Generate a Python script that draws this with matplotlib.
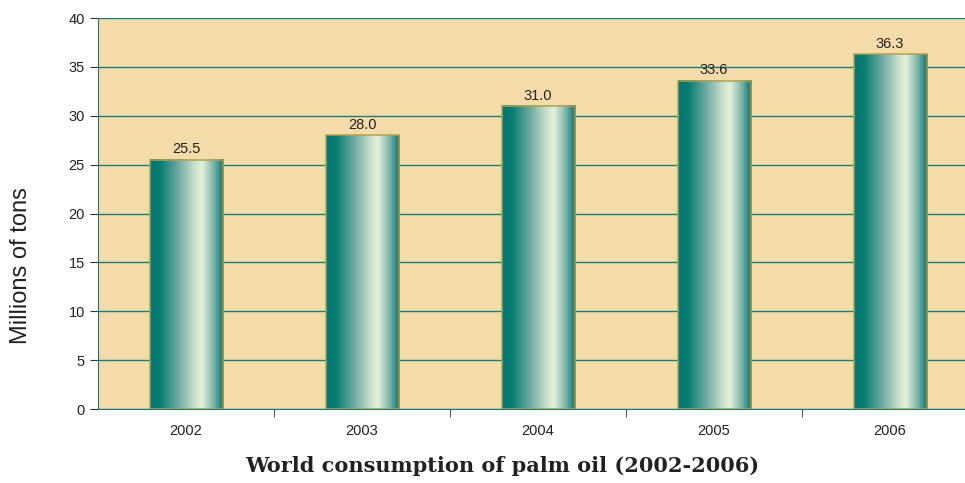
import numpy as np
from matplotlib import pyplot as plt
from matplotlib.colors import LinearSegmentedColormap

years = ['2002', '2003', '2004', '2005', '2006']
consumption = [25.5, 28.0, 31.0, 33.6, 36.3]
value_labels = ['25.5', '28.0', '31.0', '33.6', '36.3']

plt.rcParams['font.family'] = ['Liberation Sans', 'DejaVu Sans']

bg = '#f5dba9'
teal = '#1a7c79'
edge = '#b3a04c'

# horizontal metallic gradient used inside each bar
barcmap = LinearSegmentedColormap.from_list('metal', [
    (0.0, '#00766e'), (0.15, '#0a7f77'), (0.38, '#6fa99f'),
    (0.62, '#cfe6cf'), (0.71, '#e3f1d9'), (0.86, '#7fb3aa'), (1.0, '#00766e')])
grad = np.linspace(0, 1, 256).reshape(1, -1)

fig = plt.figure(figsize=(9.65, 4.83), dpi=100)
ax = fig.add_axes([0.1016, 0.1532, 0.912, 0.8095])
ax.set_facecolor(bg)

x = np.arange(len(years))
w = 0.415
ax.bar(x, consumption, width=w, color='none', edgecolor=edge, linewidth=1.1, zorder=3)
for xi, v in zip(x, consumption):
    ax.imshow(grad, cmap=barcmap, aspect='auto', extent=(xi - w / 2, xi + w / 2, 0, v),
              zorder=2, interpolation='bilinear')
for xi, v, lab in zip(x, consumption, value_labels):
    ax.text(xi, v + 0.35, lab, ha='center', va='bottom', fontsize=10.5, color='#222222', zorder=4)

ax.set_xlim(-0.5, 4.5)
ax.set_ylim(0, 40)
ax.set_yticks(range(0, 41, 5))
ax.yaxis.grid(True, color=teal, linewidth=1.0, zorder=1)
ax.set_axisbelow(True)

ax.set_xticks(x)
ax.set_xticklabels(years, fontsize=10.5, color='#222222')
ax.tick_params(axis='x', length=0, pad=11)
ax.set_xticks(np.arange(0.5, 4.0, 1.0), minor=True)
ax.tick_params(axis='x', which='minor', length=6, color='#333333', direction='out')
ax.tick_params(axis='y', labelsize=10.5, labelcolor='#222222', length=6, color='#333333')

for s in ['top', 'right']:
    ax.spines[s].set_visible(False)
ax.spines['left'].set_color(teal)
ax.spines['bottom'].set_color(teal)

fig.text(0.022, 0.45, 'Millions of tons', rotation=90, ha='center', va='center', fontsize=17, color='#222222')
fig.text(0.52, 0.035, 'World consumption of palm oil (2002-2006)', ha='center', va='center',
         fontsize=15, fontweight='bold', family='DejaVu Serif', color='#222222')

plt.savefig('out.png', dpi=100)
